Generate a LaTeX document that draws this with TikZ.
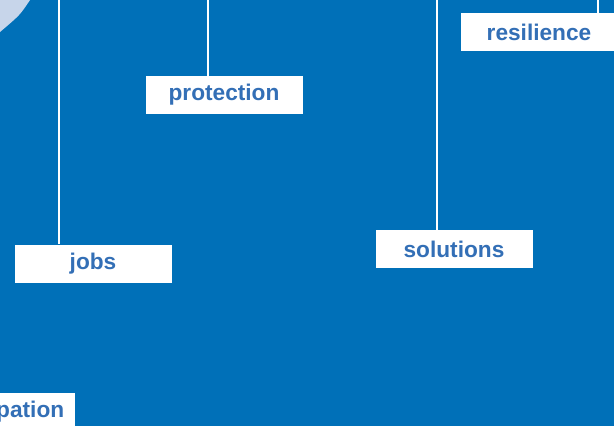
\documentclass[tikz,border=0pt]{standalone}
\usepackage{fontspec}
\setmainfont{Liberation Sans}
\usetikzlibrary{positioning}
\definecolor{seablue}{HTML}{0070B8}
\definecolor{paleblue}{HTML}{C7D5EA}
\definecolor{wordblue}{HTML}{336FB6}
\tikzset{
  tag/.style={fill=white, text=wordblue, font=\fontsize{17}{20}\selectfont\bfseries,
    minimum width=117.75pt, minimum height=28.5pt, inner sep=0pt},
  stem/.style={draw=white, line width=1.5pt}
}

\begin{document}
\begin{tikzpicture}[x=0.75pt,y=-0.75pt]
    \fill[seablue] (0,0) rectangle (614,426);
    \useasboundingbox (0,0) rectangle (614,426);
    \fill[paleblue] (0,0) -- (30,0) .. controls (20,15) .. (0,32) -- cycle;
    % boxes
    \node[tag] (jobs) at (93,263.5) {jobs};
    \node[tag] (protection) at (224,95) {protection};
    \node[tag] (solutions) at (454,249) {solutions};
    \node[tag] (resilience) at (539,32) {resilience};
    \node[tag, anchor=east] (participation) at (75,412) {participation};
    % stems from the top edge
    \coordinate (jobstop) at (59,-5);
    \coordinate (protop) at (208,-5);
    \coordinate (soltop) at (437,-5);
    \coordinate (restop) at (598,-5);
    \draw[stem] (jobstop) -- (jobstop |- jobs.north);
    \draw[stem] (protop) -- (protop |- protection.north);
    \draw[stem] (soltop) -- (soltop |- solutions.north);
    \draw[stem] (restop) -- (restop |- resilience.north);
\end{tikzpicture}
\end{document}
